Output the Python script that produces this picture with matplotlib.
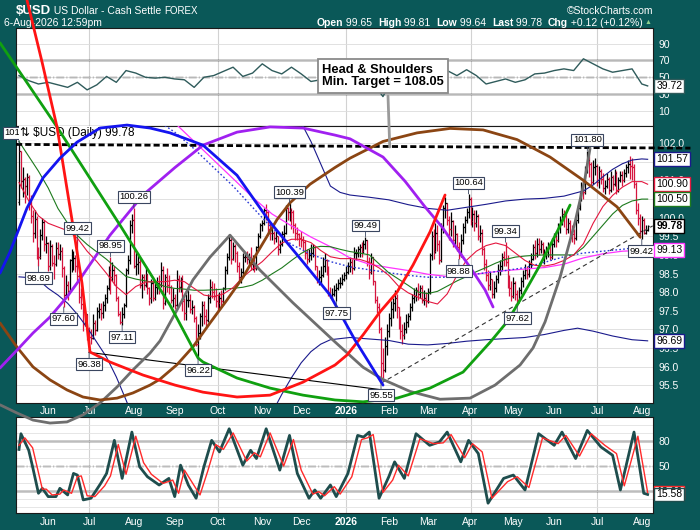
import numpy as np
import pandas as pd
import matplotlib
matplotlib.use("Agg")
import matplotlib.pyplot as plt
from matplotlib.offsetbox import TextArea, HPacker, AnnotationBbox

plt.rcParams["font.family"] = ["Liberation Sans", "DejaVu Sans"]

TEAL = "#0a5858"
UP, DOWN = "#000000", "#d6153f"

# ---------------- price data (daily, weekdays) ----------------
dates = pd.bdate_range("2025-05-12", "2026-08-06")
first_open = 100.42

closes = [
    101.79, 100.99, 101.04, 100.84, 101.09,
    100.38, 100.05, 99.58, 99.96, 99.11,
    98.95, 99.54, 99.88, 99.28, 99.33,
    98.70, 99.25, 98.77, 98.75, 99.19,
    99.03, 99.10, 98.64, 97.92, 98.18,
    98.03, 98.86, 98.90, 98.91, 98.71,
    98.42, 97.86, 97.67, 97.13, 97.40,
    96.88, 96.80, 96.77, 97.17, 96.97,
    97.50, 97.55, 97.45, 97.65, 97.85,
    98.10, 98.60, 98.40, 98.60, 98.45,
    97.85, 97.40, 97.20, 97.40, 97.65,
    98.60, 98.85, 99.80, 99.95, 98.70,
    98.75, 98.80, 98.20, 98.40, 98.20,
    98.50, 98.10, 97.85, 98.25, 97.85,
    98.15, 98.25, 98.20, 98.60, 97.70,
    98.40, 98.20, 98.15, 97.80, 97.85,
    97.65, 98.35, 98.15, 98.35, 97.75,
    97.45, 97.80, 97.80, 97.55, 97.60,
    97.30, 96.60, 96.90, 97.35, 97.65,
    97.35, 97.25, 97.85, 98.15, 98.00,
    97.90, 97.75, 97.70, 97.85, 97.75,
    98.10, 98.60, 98.95, 99.40, 98.90,
    99.25, 99.05, 98.70, 98.40, 98.55,
    98.95, 98.95, 98.90, 98.95, 98.75,
    98.75, 98.65, 99.20, 99.50, 99.80,
    99.85, 100.20, 100.15, 99.70, 99.60,
    99.60, 99.45, 99.50, 99.15, 99.30,
    99.55, 99.60, 100.25, 100.15, 100.20,
    100.15, 99.80, 99.60, 99.55, 99.45,
    99.40, 99.35, 99.05, 98.90, 99.00,
    99.05, 99.20, 98.70, 98.35, 98.40,
    98.45, 98.70, 98.85, 98.55, 98.00,
    97.90, 97.95, 98.05, 98.10, 98.25,
    98.25, 98.35, 98.45, 98.55, 98.70,
    98.80, 98.65, 99.05, 99.05, 99.15,
    99.20, 99.10, 99.30, 99.40, 98.80,
    98.55, 98.95, 98.30, 97.80, 97.60,
    97.00, 96.10, 95.90, 96.55, 96.95,
    97.30, 97.55, 97.70, 97.85, 97.60,
    97.10, 96.95, 96.85, 97.00, 97.20,
    97.35, 97.60, 97.85, 97.90, 98.05,
    97.95, 98.10, 97.80, 97.85, 97.75,
    98.00, 99.00, 99.50, 99.10, 99.60,
    99.30, 98.85, 99.70, 100.25, 100.40,
    99.95, 99.70, 99.90, 99.40, 99.55,
    99.20, 99.00, 99.40, 99.75, 99.95,
    100.15, 100.50, 99.90, 100.10, 99.85,
    100.05, 99.50, 99.60, 99.15, 98.75,
    98.45, 98.20, 98.35, 97.95, 98.10,
    98.35, 98.60, 98.70, 98.95, 98.90,
    98.80, 98.25, 98.10, 97.90, 98.25,
    97.95, 97.80, 98.05, 98.30, 98.45,
    98.60, 98.50, 98.75, 98.90, 99.20,
    99.05, 99.30, 99.15, 99.30, 98.95,
    99.05, 99.10, 99.25, 98.95, 99.30,
    99.50, 99.40, 99.75, 99.95, 100.10,
    100.05, 99.70, 99.85, 99.60, 99.55,
    99.45, 99.95, 100.25, 100.55, 100.85,
    100.70, 101.30, 101.55, 101.45, 100.95,
    101.35, 101.40, 100.95, 101.25, 101.05,
    100.80, 100.85, 101.05, 100.75, 101.10,
    100.90, 101.20, 100.75, 101.00, 101.15,
    101.00, 101.20, 101.35, 101.45, 101.40,
    101.35, 100.90, 100.20, 100.00, 99.65,
    99.95, 99.60, 99.66, 99.78,
]

highs = [
    101.98, 101.80, 101.35, 101.10, 101.20,
    101.15, 100.60, 100.20, 100.20, 100.05,
    99.20, 99.70, 100.00, 99.95, 99.50,
    99.35, 99.40, 99.30, 99.00, 99.35,
    99.35, 99.30, 99.20, 98.70, 98.45,
    98.30, 98.90, 99.15, 99.10, 99.00,
    99.42, 98.50, 98.10, 97.70, 97.50,
    97.40, 97.05, 97.00, 97.40, 97.25,
    97.60, 97.70, 97.70, 97.75, 97.95,
    98.20, 98.70, 98.95, 98.80, 98.70,
    98.50, 97.90, 97.50, 97.60, 97.70,
    98.65, 99.00, 99.95, 100.10, 100.26,
    99.10, 99.05, 98.90, 98.50, 98.50,
    98.70, 98.50, 98.15, 98.35, 98.40,
    98.25, 98.40, 98.45, 98.80, 98.70,
    98.50, 98.65, 98.45, 98.20, 98.10,
    97.95, 98.60, 98.45, 98.40, 98.45,
    97.85, 97.95, 98.05, 97.95, 97.80,
    97.65, 97.35, 97.15, 97.45, 97.75,
    97.75, 97.55, 97.95, 98.35, 98.30,
    98.25, 98.10, 97.95, 98.00, 98.05,
    98.15, 98.70, 99.05, 99.55, 99.50,
    99.35, 99.30, 99.10, 98.80, 98.65,
    99.05, 99.05, 99.10, 99.05, 99.20,
    99.00, 98.90, 99.25, 99.60, 99.85,
    99.95, 100.25, 100.36, 100.20, 99.90,
    99.75, 99.65, 99.65, 99.50, 99.40,
    99.65, 99.80, 100.35, 100.30, 100.39,
    100.25, 100.20, 99.85, 99.75, 99.60,
    99.65, 99.50, 99.40, 99.15, 99.15,
    99.30, 99.30, 99.25, 98.70, 98.60,
    98.70, 98.95, 99.05, 98.90, 98.70,
    98.15, 98.10, 98.20, 98.25, 98.35,
    98.40, 98.50, 98.55, 98.70, 98.80,
    98.95, 98.90, 99.20, 99.15, 99.25,
    99.30, 99.35, 99.40, 99.49, 99.40,
    98.95, 99.05, 98.95, 98.30, 97.90,
    97.70, 97.05, 96.50, 96.80, 97.15,
    97.45, 97.75, 97.85, 98.05, 97.95,
    97.60, 97.35, 97.15, 97.20, 97.40,
    97.45, 97.70, 97.95, 98.10, 98.15,
    98.25, 98.20, 98.20, 98.05, 98.00,
    98.10, 99.05, 99.65, 99.70, 99.85,
    99.80, 99.40, 99.85, 100.35, 100.56,
    100.40, 100.05, 100.15, 99.95, 99.80,
    99.60, 99.35, 99.55, 99.85, 100.05,
    100.25, 100.64, 100.55, 100.30, 100.20,
    100.20, 100.10, 99.80, 99.70, 99.20,
    98.90, 98.60, 98.55, 98.35, 98.30,
    98.45, 98.75, 98.85, 99.05, 99.10,
    99.34, 99.00, 98.45, 98.30, 98.40,
    98.30, 98.05, 98.15, 98.40, 98.60,
    98.75, 98.70, 98.85, 99.05, 99.30,
    99.40, 99.45, 99.45, 99.40, 99.35,
    99.15, 99.25, 99.35, 99.30, 99.45,
    99.60, 99.65, 99.85, 100.05, 100.25,
    100.20, 100.15, 100.00, 99.95, 99.80,
    99.70, 100.05, 100.35, 100.70, 100.95,
    101.05, 101.40, 101.80, 101.65, 101.50,
    101.55, 101.60, 101.45, 101.40, 101.30,
    101.20, 101.00, 101.20, 101.10, 101.25,
    101.15, 101.30, 101.25, 101.10, 101.25,
    101.25, 101.30, 101.45, 101.55, 101.65,
    101.60, 101.45, 100.95, 100.40, 100.10,
    100.05, 100.00, 99.80, 99.81,
]

lows = [
    100.35, 100.80, 100.55, 100.40, 100.60,
    100.20, 99.85, 99.35, 99.45, 98.90,
    98.69, 98.90, 99.40, 99.10, 99.05,
    98.58, 98.60, 98.70, 98.35, 98.70,
    98.90, 98.85, 98.40, 97.60, 97.90,
    97.80, 98.00, 98.55, 98.60, 98.55,
    98.30, 97.70, 97.55, 96.95, 97.10,
    96.70, 96.38, 96.60, 96.75, 96.85,
    96.95, 97.30, 97.25, 97.30, 97.50,
    97.70, 98.05, 97.95, 98.30, 98.20,
    97.75, 97.35, 97.15, 97.11, 97.30,
    97.60, 98.50, 98.75, 99.60, 98.65,
    98.45, 98.50, 98.10, 97.85, 98.05,
    98.15, 97.95, 97.65, 97.70, 97.75,
    97.80, 97.95, 97.95, 98.15, 97.55,
    97.65, 98.00, 97.95, 97.70, 97.60,
    97.55, 97.60, 98.00, 98.00, 97.50,
    97.25, 97.25, 97.60, 97.45, 97.40,
    97.20, 96.55, 96.22, 96.75, 97.10,
    97.15, 97.10, 97.20, 97.70, 97.85,
    97.80, 97.60, 97.50, 97.55, 97.60,
    97.70, 98.05, 98.50, 98.85, 98.75,
    98.85, 98.80, 98.55, 98.30, 98.25,
    98.50, 98.80, 98.75, 98.75, 98.60,
    98.60, 98.55, 98.60, 99.15, 99.45,
    99.65, 99.80, 99.95, 99.55, 99.40,
    99.40, 99.30, 99.35, 98.99, 99.05,
    99.25, 99.45, 99.55, 99.95, 99.90,
    99.70, 99.60, 99.40, 99.40, 99.25,
    99.20, 99.10, 98.90, 98.75, 98.80,
    98.85, 98.95, 98.60, 98.25, 98.20,
    98.20, 98.40, 98.55, 98.45, 97.90,
    97.85, 97.80, 97.90, 97.75, 98.05,
    98.10, 98.20, 98.30, 98.35, 98.50,
    98.55, 98.50, 98.60, 98.85, 98.95,
    98.95, 98.95, 99.05, 99.15, 98.70,
    98.35, 98.50, 98.20, 97.70, 97.45,
    96.90, 95.55, 95.70, 95.85, 96.30,
    96.80, 97.10, 97.30, 97.50, 97.30,
    97.00, 96.75, 96.60, 96.75, 96.90,
    97.05, 97.25, 97.50, 97.70, 97.75,
    97.80, 97.85, 97.70, 97.65, 97.60,
    97.70, 97.95, 98.85, 98.90, 99.05,
    99.10, 98.75, 98.80, 99.60, 100.00,
    99.80, 99.40, 99.50, 99.20, 99.25,
    99.10, 98.88, 98.95, 99.30, 99.60,
    99.85, 100.00, 99.80, 99.75, 99.65,
    99.75, 99.40, 99.35, 99.00, 98.60,
    98.30, 98.05, 98.05, 97.85, 97.85,
    98.00, 98.25, 98.45, 98.60, 98.70,
    98.70, 98.10, 97.90, 97.75, 97.85,
    97.80, 97.62, 97.75, 97.95, 98.15,
    98.35, 98.35, 98.40, 98.65, 98.85,
    98.90, 98.95, 99.00, 99.05, 98.85,
    98.75, 98.90, 98.95, 98.85, 98.90,
    99.20, 99.20, 99.35, 99.60, 99.80,
    99.75, 99.55, 99.60, 99.45, 99.35,
    99.30, 99.40, 99.85, 100.20, 100.45,
    100.50, 100.65, 101.20, 101.10, 100.85,
    100.90, 101.15, 100.85, 100.80, 100.90,
    100.70, 100.65, 100.80, 100.65, 100.70,
    100.75, 100.85, 100.65, 100.70, 100.95,
    100.85, 100.95, 101.10, 101.20, 101.05,
    101.00, 100.80, 100.10, 99.80, 99.45,
    99.42, 99.55, 99.55, 99.64,
]

last_ohlc = [99.65, 99.81, 99.64, 99.78]
last_chg = [0.12, 0.12]

# ---------------- overlays ----------------
ma_idx = list(range(0, 321, 5)) + [323]
ma20 = [100.95, 100.45, 100.05, 99.85, 99.75, 99.65, 99.45, 99.10, 98.82, 98.50,
        98.15, 97.93, 98.15, 98.27, 98.28, 98.28, 98.32, 98.28, 98.10, 97.92,
        97.88, 97.95, 98.12, 98.40, 98.62, 98.82, 99.08, 99.32, 99.42, 99.42,
        99.33, 99.12, 98.95, 98.90, 98.90, 98.88, 98.80, 98.65, 98.45, 98.16,
        97.98, 97.86, 97.75, 97.68, 97.95, 98.45, 98.86, 99.10, 99.25, 99.32,
        99.25, 99.05, 98.85, 98.72, 98.70, 98.75, 98.85, 99.00, 99.30, 99.85,
        100.30, 100.60, 100.82, 100.97, 100.97, 100.90]
ma50 = [102.05, 101.65, 101.25, 100.80, 100.25, 99.85, 99.52, 99.28, 99.08, 98.88,
        98.65, 98.42, 98.35, 98.30, 98.25, 98.15, 98.10, 98.08, 98.05, 98.05,
        98.06, 98.08, 98.10, 98.13, 98.19, 98.32, 98.49, 98.65, 98.85, 99.04,
        99.18, 99.23, 99.22, 99.15, 99.09, 99.05, 99.00, 98.76, 98.52, 98.35,
        98.18, 98.00, 97.96, 98.02, 98.16, 98.30, 98.42, 98.55, 98.66, 98.78,
        98.88, 98.94, 98.97, 98.99, 99.00, 99.00, 99.00, 99.00, 99.20, 99.50,
        99.80, 100.10, 100.33, 100.45, 100.50, 100.50]

mid_idx = list(range(80, 321, 10)) + [323]
mid_band = [102.55, 102.05, 101.55, 101.05, 100.55, 100.10, 99.78, 99.48, 99.22, 98.92,
            98.75, 98.66, 98.58, 98.48, 98.42, 98.45, 98.52, 98.58, 98.62, 98.66,
            98.75, 98.92, 99.03, 99.10, 99.12, 99.13]

dot_idx = list(range(70, 321, 10)) + [323]
dot_ma = [102.65, 102.30, 101.85, 101.35, 100.85, 100.28, 99.72, 99.28, 99.02, 98.82,
          98.68, 98.60, 98.52, 98.45, 98.40, 98.40, 98.45, 98.52, 98.58, 98.66,
          98.80, 98.95, 99.05, 99.10, 99.15, 99.22, 99.25]

upper_idx = [145, 150, 155, 160, 165, 170, 180, 190, 200, 210, 220, 230, 240,
             250, 260, 270, 280, 290, 295, 300, 305, 310, 315, 320, 323]
upper_band = [102.55, 102.05, 101.45, 100.85, 100.68, 100.61, 100.55, 100.48, 100.35,
              100.25, 100.20, 100.28, 100.36, 100.45, 100.50, 100.52, 100.58, 100.72,
              100.88, 101.10, 101.30, 101.45, 101.55, 101.58, 101.57]

lower_idx_a = [0, 5, 10, 15, 20, 25, 30, 35, 40, 45, 50, 55, 58]
lower_band_a = [98.41, 98.39, 98.33, 98.10, 97.92, 97.70, 97.40, 97.05, 96.65, 96.25,
                95.72, 95.10, 94.70]
lower_idx_b = [130, 135, 140, 145, 150, 155, 160, 170, 180, 190, 200, 210, 220, 230,
               240, 250, 260, 270, 280, 287, 295, 305, 315, 323]
lower_band_b = [94.75, 95.25, 95.70, 96.10, 96.40, 96.60, 96.72, 96.78, 96.74, 96.70,
                96.60, 96.58, 96.62, 96.68, 96.72, 96.75, 96.78, 96.86, 96.97, 97.03,
                96.95, 96.82, 96.72, 96.69]

rsi_idx = list(range(0, 181, 5)) + [183, 187] + list(range(190, 321, 5)) + [323]
rsi_val = [52, 46, 42, 44, 41, 38, 44, 35, 41, 51,
           44, 58, 55, 50, 49, 50, 48, 47, 38, 50,
           52, 57, 62, 51, 55, 66, 58, 54, 62, 54,
           45, 47, 43, 47, 50, 52, 49,
           40, 27,
           40, 38, 42, 44, 52, 56, 58, 52, 59, 52,
           42, 45, 48, 44, 47, 54, 55, 58, 60, 58,
           72, 66, 60, 56, 58, 60, 42,
           39.72]

k_idx = [0, 1, 5, 7, 10, 12, 15, 19, 21, 25, 28, 30, 33, 37, 42, 45, 49, 53, 58, 62,
         66, 72, 77, 80, 83, 87, 91, 95, 99, 103, 108, 115, 119, 122, 127, 134, 139,
         143, 149, 152, 155, 160, 163, 169, 174, 177, 180, 185, 190, 193, 198, 204,
         211, 216, 220, 227, 231, 236, 241, 249, 254, 260, 267, 275, 279, 286, 292,
         299, 305, 309, 316, 321, 323]
k_val = [70, 89, 69, 49, 17, 23, 13, 13, 23, 15, 41, 39, 9, 11, 29, 41, 81, 35, 91, 49,
         37, 27, 35, 13, 51, 27, 11, 49, 81, 67, 95, 51, 69, 59, 95, 45, 87,
         41, 11, 21, 11, 27, 13, 41, 87, 85, 91, 11, 37, 55, 35, 89,
         75, 79, 91, 55, 81, 65, 5, 35, 39, 21, 89, 75, 91, 59, 93,
         73, 63, 21, 91, 17, 15.58]
d_idx = [0, 3, 7, 9, 12, 14, 17, 21, 23, 27, 30, 32, 35, 39, 44, 47, 51, 55, 60, 64,
         68, 74, 79, 82, 85, 89, 93, 97, 101, 105, 110, 117, 121, 124, 129, 136, 141,
         145, 151, 154, 157, 162, 165, 171, 176, 179, 182, 187, 192, 195, 200, 206,
         213, 218, 222, 229, 233, 238, 243, 251, 256, 262, 269, 277, 281, 288, 294,
         301, 307, 311, 318, 323]
d_val = [75, 84, 72, 52, 22, 22, 15, 16, 21, 17, 37, 38, 14, 13, 26, 38, 76, 40, 86, 54,
         40, 29, 33, 17, 45, 30, 15, 44, 76, 70, 90, 56, 66, 61, 90, 50, 82,
         45, 16, 19, 14, 25, 16, 37, 82, 84, 88, 18, 33, 51, 38, 83,
         77, 78, 88, 60, 77, 67, 11, 31, 37, 24, 84, 77, 87, 62, 89,
         75, 65, 26, 86, 18]

# swing labels: bar index and whether it marks the high or the low
label_idx = [0, 10, 23, 30, 36, 47, 53, 59, 92, 139, 163, 178, 186, 226, 231, 250, 256, 292, 320]
label_kind = ["H", "L", "L", "H", "L", "H", "L", "H", "L", "H", "L", "H", "L", "L", "H", "H", "L", "H", "L"]

# hand-drawn cycle arcs (bar index, price)
blue_arc_i = [-9.76, -4.62, 4.11, 12.33, 21.07, 29.8, 41.62, 55.5, 67.32, 77.6, 94.55,
              112.02, 128.98, 145.94, 159.82, 172.66, 187.05]
blue_arc_p = [98.51, 99.08, 100.26, 101.07, 101.60, 102.03, 102.41, 102.49, 102.41, 102.28,
              101.95, 101.14, 99.88, 98.81, 97.92, 96.71, 95.50]
red_arc_i = [4.11, 11.82, 19.53, 27.24, 32.37, 36.48, 46.76, 63.72, 80.16, 94.55, 112.02,
             128.98, 145.94, 162.38, 168.55, 176.77, 185.51, 194.24, 202.47, 211.2, 218.91]
red_arc_p = [105.85, 104.19, 102.44, 99.94, 98.24, 96.39, 96.12, 95.77, 95.50, 95.31, 95.18,
             95.23, 95.58, 96.04, 96.31, 96.85, 97.47, 98.00, 98.73, 99.62, 100.61]
green_arc_i = [-9.76, 19.53, 51.9, 77.6, 91.98, 94.55, 112.02, 128.98, 145.94, 162.38,
               176.77, 194.24, 211.2, 228.16, 242.03, 250.77, 258.99, 267.73, 276.46, 283.14]
green_arc_p = [104.70, 102.44, 99.80, 97.65, 96.23, 96.12, 95.69, 95.42, 95.23, 95.10,
               95.05, 95.15, 95.42, 95.85, 96.65, 97.20, 97.92, 98.73, 99.62, 100.34]
purple_arc_i = [-9.76, -1.03, 7.19, 15.93, 24.67, 31.35, 46.76, 63.72, 80.16, 94.55, 112.02,
                128.98, 145.94, 162.38, 170.09, 187.05, 198.36, 208.63, 217.37, 225.59,
                232.78, 239.46, 243.58]
purple_arc_p = [95.96, 96.44, 96.90, 97.33, 97.87, 98.35, 99.53, 100.61, 101.35, 101.95, 102.30,
                102.44, 102.41, 102.22, 102.12, 101.63, 100.98, 100.29, 99.75, 99.13,
                98.59, 98.06, 97.60]
brown_arc_i = [-9.76, -1.03, 7.19, 15.93, 24.67, 32.89, 41.62, 50.36, 58.58, 67.32, 72.46,
               81.19, 89.41, 98.15, 106.89, 115.11, 122.3, 127.44, 132.58, 139.26, 149.54,
               162.38, 170.09, 187.05, 204.52, 221.48, 238.44, 255.9, 272.87, 289.83,
               307.3, 319.12]
brown_arc_p = [97.17, 96.52, 95.99, 95.64, 95.37, 95.18, 95.10, 95.15, 95.29, 95.50, 95.66,
               96.05, 96.53, 97.17, 97.79, 98.40, 99.05, 99.50, 99.95, 100.40, 100.90,
               101.35, 101.60, 102.05, 102.28, 102.40, 102.36, 102.10, 101.63, 101.01,
               100.29, 99.48]
grey_arc_i = [-9.76, -1.03, 7.19, 15.93, 24.67, 32.89, 41.62, 50.36, 58.58, 67.32, 72.46,
              81.19, 89.41, 98.15, 108.43, 123.84, 140.8, 162.38, 176.77, 187.05, 200.92,
              216.34, 231.76, 244.6, 257.45, 264.13, 270.3, 278.01, 285.71, 290.85, 293.42]
grey_arc_p = [94.97, 94.75, 94.56, 94.48, 94.51, 94.70, 95.02, 95.45, 95.91, 96.36, 96.69,
              97.52, 98.33, 98.94, 99.53, 98.59, 97.71, 96.66, 95.98, 95.65, 95.33,
              95.12, 95.15, 95.50, 96.04, 96.50, 97.20, 98.40, 99.88, 101.07, 101.87]

neck_idx = [-1.5, 345.0]
neck_px = [101.97, 101.87]
base_idx = [36, 185.5]
base_px = [96.38, 95.38]
trend_idx = [186, 325.6]
trend_px = [95.55, 99.78]
callout_tip = [190.5, 101.9]

# ---------------- figure ----------------
W, H = 700, 530
fig = plt.figure(figsize=(W / 100, H / 100), dpi=100, facecolor=TEAL)


def axes_px(left, top, right, bottom):
    return fig.add_axes([left / W, 1 - bottom / H, (right - left) / W, (bottom - top) / H])


ax_rsi = axes_px(16, 28.3, 652.7, 126)
ax_sto = axes_px(16, 416.7, 652.7, 513.3)
ax = axes_px(16, 126, 652.7, 402.7)
ax.set_zorder(3)

n = len(closes)
xb = np.arange(n)
month_pos = [i for i in range(1, n) if dates[i].month != dates[i - 1].month]
month_lab = [str(dates[i].year) if dates[i].month == 1 else dates[i].strftime("%b") for i in month_pos]
quarter_pos = [i for i in month_pos if dates[i].month in (1, 4, 7, 10)]

for a in (ax, ax_rsi, ax_sto):
    a.set_facecolor("white")
    a.set_xlim(-1.54, 325.6)
    for s in a.spines.values():
        s.set_color("#1a1a1a")
        s.set_linewidth(0.8)
    a.yaxis.tick_right()
    a.tick_params(axis="y", length=0, labelcolor="white", labelsize=7.5, pad=4)
    a.tick_params(axis="x", length=0, labelcolor="white", labelsize=7.5, pad=2.5)
    a.set_xticks(month_pos)
    a.set_xticklabels(month_lab)
    for q in quarter_pos:
        a.axvline(q, color="#d2d2d2", lw=0.8, zorder=0.5)
    for lbl in a.get_xticklabels():
        if lbl.get_text().isdigit():
            lbl.set_fontweight("bold")
ax_rsi.tick_params(labelbottom=False)


def tag(a, y, text, edge, bold=False):
    a.annotate(text, xy=(1, y), xycoords=("axes fraction", "data"), xytext=(2.5, 0),
               textcoords="offset points", ha="left", va="center", fontsize=7.5,
               fontweight="bold" if bold else "normal", color="black",
               bbox=dict(boxstyle="square,pad=0.18", fc="white", ec=edge, lw=1.0),
               annotation_clip=False, zorder=12)


# ---- main price panel ----
ax.set_ylim(95.027, 102.465)
ax.set_yticks(np.arange(95.5, 102.01, 0.5))
ax.set_yticklabels([f"{v:.1f}" for v in np.arange(95.5, 102.01, 0.5)])
ax.grid(axis="y", color="#dcdcdc", lw=0.6, zorder=0)

opens = np.array([first_open] + closes[:-1])
cl = np.array(closes)
colors = [UP if c >= o else DOWN for c, o in zip(cl, opens)]
ax.vlines(xb, lows, highs, colors=colors, lw=0.9, zorder=2)
ax.hlines(opens, xb - 0.75, xb, colors=colors, lw=0.9, zorder=2)
ax.hlines(cl, xb, xb + 0.75, colors=colors, lw=0.9, zorder=2)

ax.plot(upper_idx, upper_band, color="#1a1a8c", lw=0.8, zorder=3)
ax.plot(lower_idx_a, lower_band_a, color="#1a1a8c", lw=0.8, zorder=3)
ax.plot(lower_idx_b, lower_band_b, color="#1a1a8c", lw=0.8, zorder=3)
ax.plot(mid_idx, mid_band, color="#ff33ff", lw=0.9, zorder=3)
ax.plot(dot_idx, dot_ma, color="#2b3bd6", lw=1.0, ls=(0, (1.2, 1.6)), zorder=3)
ax.plot(ma_idx, ma50, color="#1d7a1d", lw=0.8, zorder=3)
ax.plot(ma_idx, ma20, color="#e4173f", lw=0.8, zorder=3)

ax.plot(neck_idx, neck_px, color="black", lw=2.0, ls=(0, (2.2, 1.1)), clip_on=False, zorder=4)
ax.plot(base_idx, base_px, color="black", lw=0.8, zorder=4)
ax.plot(trend_idx, trend_px, color="#333333", lw=0.8, ls=(0, (4, 3)), zorder=4)

arcs = [(grey_arc_i, grey_arc_p, "#6e6e6e"), (brown_arc_i, brown_arc_p, "#8b4513"),
        (purple_arc_i, purple_arc_p, "#a020f0"), (green_arc_i, green_arc_p, "#10a010"),
        (red_arc_i, red_arc_p, "#ff1414"), (blue_arc_i, blue_arc_p, "#1414f0")]
for ai, ap, c in arcs:
    ax.plot(ai, ap, color=c, lw=2.0, clip_on=False, zorder=5, solid_capstyle="round",
            solid_joinstyle="round")

for i, kind in zip(label_idx, label_kind):
    val = highs[i] if kind == "H" else lows[i]
    dy = 8 if kind == "H" else -8.5
    ax.annotate(f"{val:.2f}", xy=(i, val), xytext=(0, dy), textcoords="offset points",
                ha="center", va="center", fontsize=6.8, color="black",
                bbox=dict(boxstyle="square,pad=0.15", fc="white", ec="#3a4660", lw=0.8),
                arrowprops=dict(arrowstyle="-", color="#3a4660", lw=0.6, shrinkA=0, shrinkB=0),
                annotation_clip=False, zorder=4.5 if i == 0 else 6)

ax.text((20 - 16) / 636.7, 1 - (133 - 126) / 276.7, f"\u21c5 $USD (Daily) {closes[-1]:.2f}",
        transform=ax.transAxes, ha="left", va="center", fontsize=8.5, color="black",
        bbox=dict(fc="white", ec="none", pad=0.6), zorder=4.8)

tag(ax, upper_band[-1], f"{upper_band[-1]:.2f}", "#1a1a8c")
tag(ax, ma20[-1], f"{ma20[-1]:.2f}", "#e4173f")
tag(ax, ma50[-1], f"{ma50[-1]:.2f}", "#1d7a1d")
tag(ax, mid_band[-1], f"{mid_band[-1]:.2f}", "#ff33ff")
tag(ax, lower_band_b[-1], f"{lower_band_b[-1]:.2f}", "#1a1a8c")
tag(ax, closes[-1], f"{closes[-1]:.2f}", "black", bold=True)

# ---- RSI panel ----
ax_rsi.set_ylim(-8, 108.3)
ax_rsi.set_yticks([10, 30, 50, 70, 90])
ax_rsi.grid(axis="y", color="#dcdcdc", lw=0.6, zorder=0)
for lv in (30, 70):
    ax_rsi.axhline(lv, color="black", lw=1.0, zorder=1)
ax_rsi.axhline(50, color="black", lw=0.9, ls="-.", zorder=1)
ax_rsi.plot(rsi_idx, rsi_val, color="#2f5b5b", lw=1.0, zorder=3)
tag(ax_rsi, rsi_val[-1], f"{rsi_val[-1]:.2f}", "#2f5b5b")

# ---- stochastics panel ----
ax_sto.set_ylim(-7.2, 109.6)
ax_sto.set_yticks([20, 50, 80])
ax_sto.set_yticks([0, 10, 30, 40, 60, 70, 90, 100], minor=True)
ax_sto.tick_params(axis="y", which="minor", length=0)
ax_sto.grid(axis="y", which="both", color="#e2e2e2", lw=0.6, zorder=0)
for lv in (20, 80):
    ax_sto.axhline(lv, color="black", lw=1.0, zorder=1)
ax_sto.axhline(50, color="black", lw=0.9, ls="-.", zorder=1)
ax_sto.plot(k_idx, k_val, color="#1e4d4d", lw=2.0, zorder=3)
ax_sto.plot(d_idx, d_val, color="#ff2a2a", lw=1.0, zorder=4)
tag(ax_sto, d_val[-1], f"{d_val[-1]:.2f}", "#ff2a2a")
tag(ax_sto, k_val[-1], f"{k_val[-1]:.2f}", "#1e4d4d")

# ---- callout ----
fig.text(322 / W, 1 - 76 / H, "Head & Shoulders\nMin. Target = 108.05", ha="left", va="center",
         fontsize=9.3, fontweight="bold", color="black", linespacing=1.1,
         bbox=dict(boxstyle="square,pad=0.32", fc="white", ec="#8a8a8a", lw=1.3), zorder=20)
ax.annotate("", xy=tuple(callout_tip), xycoords="data", xytext=(388 / W, 1 - 96 / H),
            textcoords="figure fraction",
            arrowprops=dict(arrowstyle="-", color="#9a9a9a", lw=2.0, shrinkA=0, shrinkB=0),
            annotation_clip=False, zorder=8)


# ---- header ----
def header(parts, xy, align):
    kids = [TextArea(t, textprops=dict(color="white", fontsize=s, fontweight=w)) for t, s, w in parts]
    box = HPacker(children=kids, align="baseline", pad=0, sep=0)
    fig.add_artist(AnnotationBbox(box, xy, xycoords="figure pixels", box_alignment=align,
                                  frameon=False, pad=0))


header([("$USD", 9.5, "bold"), (" US Dollar - Cash Settle ", 7.5, "normal"), ("FOREX", 7, "normal")],
       (16, H - 11), (0, 0.5))
header([("\u00a9StockCharts.com", 7.5, "normal")], (653, H - 11), (1, 0.5))
header([("6-Aug-2026 12:59pm", 7.5, "normal")], (4, H - 23), (0, 0.5))
o, h, l, c = last_ohlc
header([("Open", 7.5, "bold"), (f" {o:.2f}  ", 7.5, "normal"),
        ("High", 7.5, "bold"), (f" {h:.2f}  ", 7.5, "normal"),
        ("Low", 7.5, "bold"), (f" {l:.2f}  ", 7.5, "normal"),
        ("Last", 7.5, "bold"), (f" {c:.2f}  ", 7.5, "normal"),
        ("Chg", 7.5, "bold"), (f" +{last_chg[0]:.2f} (+{last_chg[1]:.2f}%)", 7.5, "normal")],
       (643, H - 23), (1, 0.5))
fig.text(648 / W, 1 - 23 / H, "\u25b2", color="#8fd18f", fontsize=5, ha="center", va="center")

fig.savefig("out.png", dpi=100, facecolor=TEAL)
